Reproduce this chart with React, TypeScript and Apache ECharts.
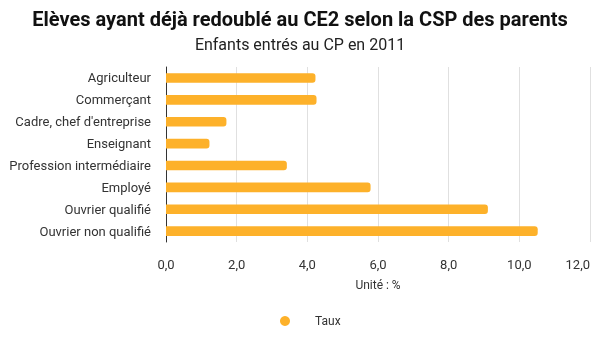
import React, { useEffect, useRef } from "react";
import * as echarts from "echarts";

const categories = [
  "Agriculteur",
  "Commerçant",
  "Cadre, chef d'entreprise",
  "Enseignant",
  "Profession intermédiaire",
  "Employé",
  "Ouvrier qualifié",
  "Ouvrier non qualifié",
];
const taux = [4.23, 4.26, 1.71, 1.23, 3.42, 5.79, 9.11, 10.52];
const seriesName = "Taux";

export default function App() {
  const ref = useRef<HTMLDivElement>(null);
  useEffect(() => {
    const chart = echarts.init(ref.current!, null, { renderer: "svg" });
    chart.setOption({
      animation: false,
      textStyle: { fontFamily: "Roboto" },
      title: {
        text: "Elèves ayant déjà redoublé au CE2 selon la CSP des parents",
        subtext: "Enfants entrés au CP en 2011",
        left: "center",
        top: 4,
        itemGap: 7,
        textStyle: { fontFamily: "Roboto", fontSize: 20, fontWeight: "bold", color: "#111" },
        subtextStyle: { fontFamily: "Roboto", fontSize: 16, color: "#222" },
      },
      legend: {
        data: [seriesName],
        bottom: 18,
        left: 275,
        icon: "circle",
        itemWidth: 50,
        itemHeight: 10,
        textStyle: { fontFamily: "Roboto", fontSize: 12, color: "#333" },
      },
      grid: {
        left: 166,
        right: 10,
        top: 67,
        bottom: 108,
        containLabel: false,
        outerBoundsMode: "none",
      },
      xAxis: {
        type: "value",
        min: 0,
        max: 12,
        interval: 2,
        name: "Unité : %",
        nameLocation: "middle",
        nameGap: 37,
        nameMoveOverlap: false,
        nameTextStyle: { fontFamily: "Roboto", fontSize: 12, color: "#333" },
        axisLine: { show: false },
        axisTick: { show: false },
        axisLabel: {
          fontFamily: "Roboto",
          fontSize: 13,
          color: "#333",
          margin: 16,
          alignMaxLabel: "right",
          formatter: (v: number) => v.toFixed(1).replace(".", ","),
        },
        splitLine: { show: true, lineStyle: { color: "#e0e0e0", width: 1 } },
      },
      yAxis: {
        type: "category",
        data: categories,
        inverse: true,
        axisLine: { show: true, lineStyle: { color: "#333", width: 1 } },
        axisTick: { show: false },
        axisLabel: { fontFamily: "Roboto", fontSize: 13, color: "#333", margin: 15 },
        splitLine: { show: false },
      },
      series: [
        {
          name: seriesName,
          type: "bar",
          data: taux,
          barWidth: "44%",
          itemStyle: { color: "#FDB12A", borderRadius: [0, 3, 3, 0] },
        },
      ],
    });
    return () => chart.dispose();
  }, []);
  return (
    <div
      ref={ref}
      style={{ position: "fixed", left: 0, top: 0, width: 600, height: 350 }}
    />
  );
}
